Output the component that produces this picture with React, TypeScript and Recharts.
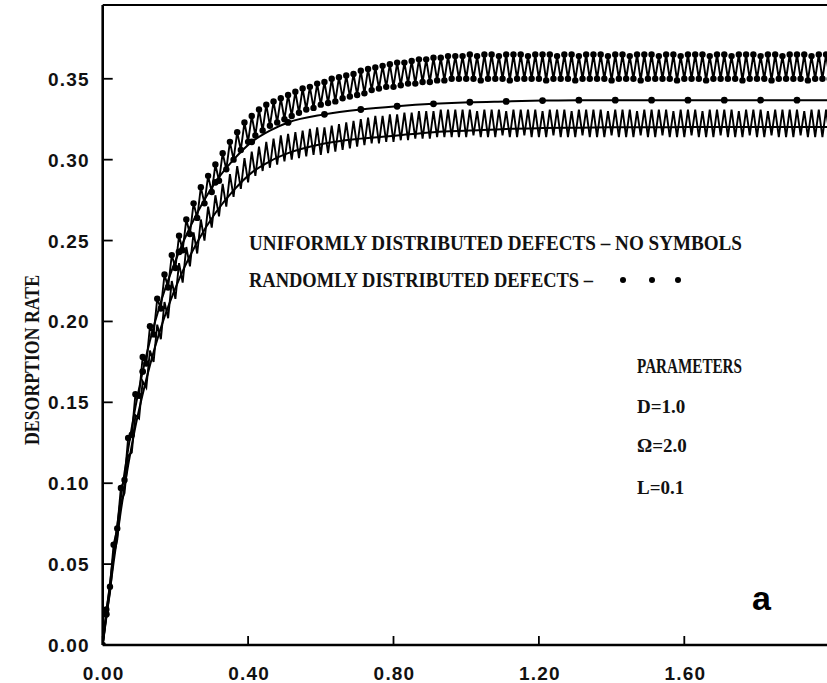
import { LineChart, Line, XAxis, YAxis } from "recharts";

// random defects, oscillating: troughs at t = 0.00, 0.02 ... 2.00, peaks at t = 0.01, 0.03 ... 1.99
const randomTroughs = [
  0, 0.036, 0.072, 0.102, 0.13, 0.154, 0.174, 0.192, 0.208, 0.221,
  0.233, 0.244, 0.254, 0.264, 0.273, 0.28, 0.287, 0.294, 0.3, 0.306,
  0.311, 0.315, 0.318, 0.321, 0.323, 0.325, 0.327, 0.329, 0.331, 0.332,
  0.334, 0.335, 0.336, 0.338, 0.339, 0.34, 0.341, 0.343, 0.344, 0.345,
  0.345, 0.346, 0.347, 0.347, 0.348, 0.348, 0.349, 0.349, 0.35, 0.35,
  0.35, 0.35, 0.349, 0.35, 0.35, 0.35, 0.349, 0.35, 0.35, 0.35,
  0.35, 0.349, 0.35, 0.35, 0.35, 0.349, 0.35, 0.35, 0.35, 0.35,
  0.349, 0.35, 0.35, 0.35, 0.349, 0.35, 0.35, 0.35, 0.35, 0.349,
  0.35, 0.35, 0.35, 0.349, 0.35, 0.35, 0.35, 0.35, 0.349, 0.35,
  0.35, 0.35, 0.349, 0.35, 0.35, 0.35, 0.35, 0.349, 0.35, 0.35,
  0.35,
];
const randomPeaks = [
  0.022, 0.062, 0.097, 0.128, 0.155, 0.178, 0.197, 0.214, 0.229, 0.241,
  0.253, 0.263, 0.273, 0.283, 0.29, 0.297, 0.304, 0.311, 0.317, 0.323,
  0.327, 0.331, 0.334, 0.336, 0.338, 0.34, 0.342, 0.344, 0.345, 0.347,
  0.348, 0.35, 0.351, 0.352, 0.353, 0.355, 0.356, 0.357, 0.358, 0.359,
  0.36, 0.36, 0.361, 0.362, 0.362, 0.363, 0.363, 0.364, 0.364, 0.364,
  0.365, 0.364, 0.365, 0.365, 0.364, 0.365, 0.365, 0.365, 0.364, 0.365,
  0.365, 0.365, 0.364, 0.365, 0.365, 0.364, 0.365, 0.365, 0.365, 0.364,
  0.365, 0.365, 0.364, 0.365, 0.365, 0.365, 0.364, 0.365, 0.365, 0.364,
  0.365, 0.365, 0.365, 0.364, 0.365, 0.365, 0.364, 0.365, 0.365, 0.365,
  0.364, 0.365, 0.365, 0.364, 0.365, 0.365, 0.365, 0.364, 0.365, 0.365,
];

// uniform defects, oscillating (no symbols)
const uniformTroughs = [
  0, 0.032, 0.065, 0.094, 0.119, 0.14, 0.159, 0.175, 0.189, 0.202,
  0.214, 0.224, 0.234, 0.242, 0.25, 0.258, 0.265, 0.271, 0.277, 0.282,
  0.286, 0.29, 0.293, 0.295, 0.297, 0.299, 0.3, 0.301, 0.302, 0.303,
  0.303, 0.304, 0.305, 0.306, 0.307, 0.308, 0.309, 0.31, 0.31, 0.311,
  0.311, 0.312, 0.312, 0.313, 0.313, 0.313, 0.314, 0.314, 0.314, 0.314,
  0.314, 0.315, 0.314, 0.314, 0.314, 0.315, 0.314, 0.314, 0.315, 0.314,
  0.314, 0.314, 0.315, 0.314, 0.314, 0.314, 0.315, 0.314, 0.314, 0.314,
  0.315, 0.314, 0.314, 0.314, 0.315, 0.314, 0.314, 0.315, 0.314, 0.314,
  0.314, 0.315, 0.314, 0.314, 0.314, 0.315, 0.314, 0.314, 0.314, 0.315,
  0.314, 0.314, 0.315, 0.314, 0.314, 0.314, 0.315, 0.314, 0.314, 0.314,
  0.314,
];
const uniformPeaks = [
  0.018, 0.055, 0.088, 0.117, 0.142, 0.163, 0.182, 0.198, 0.212, 0.225,
  0.236, 0.246, 0.255, 0.263, 0.271, 0.278, 0.285, 0.291, 0.296, 0.301,
  0.305, 0.308, 0.311, 0.313, 0.315, 0.316, 0.317, 0.318, 0.319, 0.32,
  0.32, 0.321, 0.322, 0.323, 0.324, 0.325, 0.326, 0.327, 0.327, 0.328,
  0.328, 0.329, 0.329, 0.33, 0.33, 0.33, 0.331, 0.331, 0.331, 0.331,
  0.331, 0.33, 0.331, 0.331, 0.331, 0.33, 0.331, 0.331, 0.331, 0.331,
  0.33, 0.331, 0.331, 0.331, 0.33, 0.331, 0.331, 0.331, 0.331, 0.33,
  0.331, 0.331, 0.331, 0.33, 0.331, 0.331, 0.331, 0.331, 0.33, 0.331,
  0.331, 0.331, 0.33, 0.331, 0.331, 0.331, 0.331, 0.33, 0.331, 0.331,
  0.331, 0.33, 0.331, 0.331, 0.331, 0.331, 0.33, 0.331, 0.331, 0.331,
];

// smooth curves
const smoothT = [
  0, 0.01, 0.03, 0.05, 0.07, 0.09, 0.11, 0.13, 0.16, 0.21, 0.26, 0.31, 0.36, 0.41, 0.46, 0.51,
  0.61, 0.71, 0.81, 0.91, 1.01, 1.11, 1.21, 1.31, 1.41, 1.51, 1.61, 1.71, 1.81, 1.91, 2.0,
];
const randomSmooth = [
  0, 0.019, 0.057, 0.091, 0.121, 0.147, 0.169, 0.188, 0.212, 0.243, 0.267, 0.286, 0.3, 0.311, 0.318, 0.323,
  0.328, 0.331, 0.333, 0.3345, 0.3355, 0.336, 0.3365, 0.3368, 0.3368, 0.3368, 0.3368, 0.3368, 0.3368, 0.3368, 0.3368,
];
const uniformSmooth = [
  0, 0.017, 0.051, 0.083, 0.111, 0.135, 0.155, 0.173, 0.196, 0.226, 0.249, 0.267, 0.281, 0.292, 0.299, 0.304,
  0.31, 0.313, 0.315, 0.317, 0.318, 0.319, 0.3195, 0.3198, 0.32, 0.32, 0.3202, 0.3202, 0.3202, 0.3202, 0.3202,
];

const xTicks = [0, 0.4, 0.8, 1.2, 1.6];
const topTicks = [0.4, 0.8, 1.2, 1.6];
const yTicks = [0, 0.05, 0.1, 0.15, 0.2, 0.25, 0.3, 0.35];

// time grid of the oscillating runs, step 0.01
const bandT = Array.from({ length: 201 }, (_, i) => i / 100);

function zigzag(troughs: number[], peaks: number[]) {
  return bandT.map((t, i) => ({
    t,
    v: i % 2 === 0 ? troughs[i / 2] : peaks[(i - 1) / 2],
  }));
}

const randomBand = zigzag(randomTroughs, randomPeaks);
const uniformBand = zigzag(uniformTroughs, uniformPeaks);
const randomLine = smoothT.map((t, i) => ({ t, v: randomSmooth[i] }));
const uniformLine = smoothT.map((t, i) => ({ t, v: uniformSmooth[i] }));

const tickFont = {
  fontFamily: "'Liberation Sans', Arial, sans-serif",
  fontWeight: 700,
  fontSize: 19,
  letterSpacing: 1.2,
  fill: "#111",
};
const serif = {
  fontFamily: "'Liberation Serif', 'Times New Roman', serif",
  fontWeight: 700,
  fill: "#111",
};

const BottomTick = (p: any) => (
  <g>
    <line x1={p.x} x2={p.x} y1={p.y} y2={p.y - 9} stroke="#000" strokeWidth={1.8} />
    <text x={p.x + 1} y={p.y + 35} textAnchor="middle" style={tickFont}>
      {p.payload.value.toFixed(2)}
    </text>
  </g>
);
const TopTick = (p: any) => (
  <line x1={p.x} x2={p.x} y1={p.y} y2={p.y + 9} stroke="#000" strokeWidth={1.8} />
);
const LeftTick = (p: any) => (
  <g>
    <line x1={p.x} x2={p.x + 10} y1={p.y} y2={p.y} stroke="#000" strokeWidth={1.8} />
    <text x={p.x - 13} y={p.y + 7} textAnchor="end" style={tickFont}>
      {p.payload.value.toFixed(2)}
    </text>
  </g>
);
const RightTick = (p: any) => (
  <line x1={p.x} x2={p.x - 9} y1={p.y} y2={p.y} stroke="#000" strokeWidth={1.8} />
);

const sparseDot = (props: any) => {
  const { cx, cy, payload, index } = props;
  if (Math.round(payload.t * 100) % 10 !== 1) return <g key={index} />;
  return <circle key={index} cx={cx} cy={cy} r={3.4} fill="#000" />;
};

export default function App() {
  return (
    <div style={{ position: "relative", width: 827, height: 683, overflow: "hidden", background: "#fff" }}>
      <style>{"body{margin:0}"}</style>
      <LineChart width={840} height={683} margin={{ top: 4, right: 9.3, bottom: 37, left: 101.7 }}>
        <XAxis
          dataKey="t"
          type="number"
          domain={[0, 2]}
          ticks={xTicks}
          height={1}
          tickSize={0}
          tickMargin={0}
          tickLine={false}
          tick={BottomTick}
          axisLine={{ stroke: "#000", strokeWidth: 2.6 }}
          allowDataOverflow
        />
        <XAxis
          xAxisId="top"
          orientation="top"
          dataKey="t"
          type="number"
          domain={[0, 2]}
          ticks={topTicks}
          height={1}
          tickSize={0}
          tickMargin={0}
          tickLine={false}
          tick={TopTick}
          axisLine={{ stroke: "#000", strokeWidth: 2 }}
        />
        <YAxis
          type="number"
          domain={[0, 0.3956]}
          ticks={yTicks}
          width={1}
          tickSize={0}
          tickMargin={0}
          tickLine={false}
          tick={LeftTick}
          axisLine={{ stroke: "#000", strokeWidth: 2.6 }}
          allowDataOverflow
        />
        <YAxis
          yAxisId="right"
          orientation="right"
          type="number"
          domain={[0, 0.3956]}
          ticks={yTicks}
          width={1}
          tickSize={0}
          tickMargin={0}
          tickLine={false}
          tick={RightTick}
          axisLine={{ stroke: "#000", strokeWidth: 2 }}
        />
        <Line
          data={uniformBand}
          dataKey="v"
          type="linear"
          stroke="#000"
          strokeWidth={1.9}
          dot={false}
          isAnimationActive={false}
        />
        <Line
          data={uniformLine}
          dataKey="v"
          type="monotone"
          stroke="#000"
          strokeWidth={2}
          dot={false}
          isAnimationActive={false}
        />
        <Line
          data={randomLine}
          dataKey="v"
          type="monotone"
          stroke="#000"
          strokeWidth={2}
          dot={sparseDot}
          isAnimationActive={false}
        />
        <Line
          data={randomBand}
          dataKey="v"
          type="linear"
          stroke="#000"
          strokeWidth={1.9}
          dot={{ r: 3.2, fill: "#000", stroke: "none" }}
          isAnimationActive={false}
        />
      </LineChart>
      <svg width={827} height={683} style={{ position: "absolute", left: 0, top: 0, pointerEvents: "none" }}>
        <text
          transform="translate(39 360) rotate(-90)"
          textAnchor="middle"
          fontSize={21}
          textLength={170}
          lengthAdjust="spacingAndGlyphs"
          style={serif}
        >
          DESORPTION RATE
        </text>
        <text x={249} y={250} fontSize={21} textLength={493} lengthAdjust="spacingAndGlyphs" style={serif}>
          UNIFORMLY DISTRIBUTED DEFECTS – NO SYMBOLS
        </text>
        <text x={249} y={287} fontSize={21} textLength={344} lengthAdjust="spacingAndGlyphs" style={serif}>
          RANDOMLY DISTRIBUTED DEFECTS –
        </text>
        <circle cx={623} cy={280} r={3} fill="#000" />
        <circle cx={652} cy={280} r={3} fill="#000" />
        <circle cx={678} cy={280} r={3} fill="#000" />
        <text x={637} y={373} fontSize={20} textLength={105} lengthAdjust="spacingAndGlyphs" style={serif}>
          PARAMETERS
        </text>
        <text x={637} y={413} fontSize={19} style={serif}>D=1.0</text>
        <text x={637} y={452} fontSize={19} style={serif}>Ω=2.0</text>
        <text x={637} y={494} fontSize={19} style={serif}>L=0.1</text>
        <text
          x={752}
          y={610}
          style={{ fontFamily: "'Liberation Sans', Arial, sans-serif", fontWeight: 700, fontSize: 34, fill: "#000" }}
        >
          a
        </text>
      </svg>
    </div>
  );
}
